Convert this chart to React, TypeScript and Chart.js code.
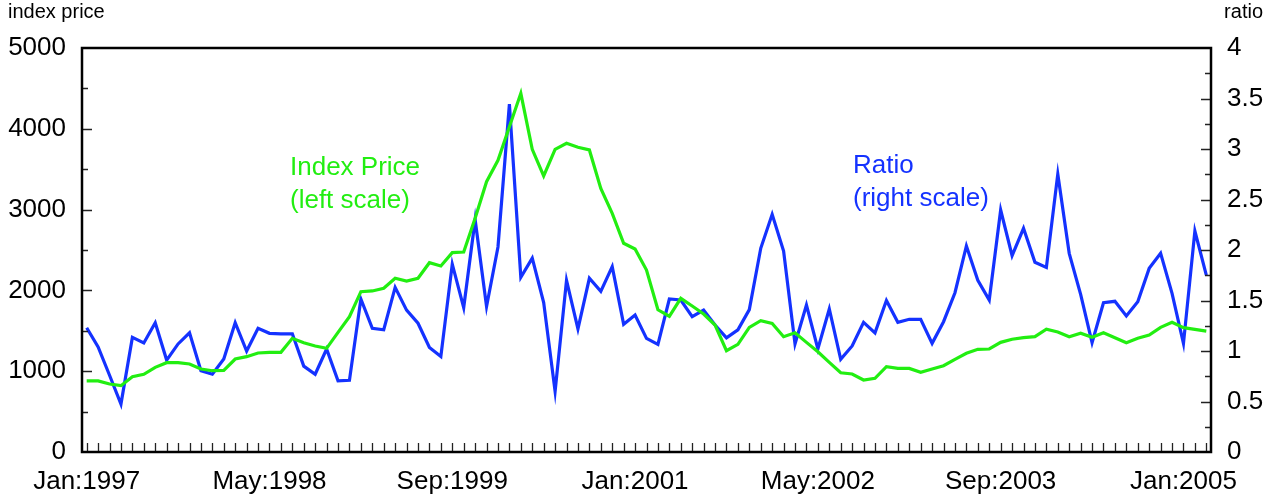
import React, { useEffect, useRef } from "react";
import { Chart, registerables } from "chart.js";

Chart.register(...registerables);

// Month index 0 = Jan 1997 ... 98 = Mar 2005
const xTickLabels = ["Jan:1997", "May:1998", "Sep:1999", "Jan:2001", "May:2002", "Sep:2003", "Jan:2005"];
const xTickEvery = 16;

const indexPrice = [
  880, 880, 842, 821, 932, 961, 1048, 1105, 1105, 1089, 1027, 1006,
  1011, 1151, 1180, 1225, 1234, 1234, 1407, 1353, 1312, 1283, 1481, 1675,
  1984, 1993, 2026, 2150, 2116, 2150, 2343, 2302, 2467, 2475, 2892, 3345,
  3610, 4026, 4439, 3746, 3416, 3746, 3820, 3771, 3738, 3263, 2954, 2583,
  2512, 2252, 1760, 1680, 1902, 1807, 1708, 1572, 1254, 1333, 1543, 1625,
  1592, 1427, 1476, 1357, 1241, 1110, 981, 965, 891, 912, 1056, 1035,
  1035, 986, 1027, 1068, 1147, 1221, 1271, 1275, 1357, 1395, 1415, 1427,
  1519, 1485, 1427, 1469, 1419, 1476, 1415, 1353, 1407, 1448, 1543, 1605,
  1539, 1518, 1497,
];

const ratio = [
  1.23, 1.04, 0.76, 0.475, 1.135, 1.08, 1.28, 0.91, 1.07, 1.18, 0.805, 0.77,
  0.92, 1.28, 1.0, 1.225, 1.175, 1.17, 1.17, 0.85, 0.77, 1.02, 0.705, 0.71,
  1.515, 1.225, 1.21, 1.63, 1.405, 1.275, 1.035, 0.945, 1.86, 1.43, 2.3, 1.44,
  2.03, 3.445, 1.73, 1.92, 1.48, 0.6, 1.7, 1.22, 1.72, 1.59, 1.835, 1.264,
  1.356, 1.125, 1.066, 1.515, 1.505, 1.34, 1.405, 1.257, 1.13, 1.21, 1.41, 2.017,
  2.353, 1.99, 1.07, 1.455, 1.02, 1.416, 0.918, 1.05, 1.284, 1.18, 1.5, 1.284,
  1.314, 1.314, 1.076, 1.29, 1.577, 2.04, 1.7, 1.505, 2.396, 1.944, 2.215, 1.878,
  1.828, 2.752, 1.967, 1.56, 1.082, 1.478, 1.492, 1.347, 1.488, 1.818, 1.967, 1.571,
  1.076, 2.188, 1.752,
];

const GREEN = "#22ee11";
const BLUE = "#1432ff";
const FONT = "'Liberation Sans', Arial, Helvetica, sans-serif";

const decorations = {
  id: "decorations",
  afterDatasetsDraw(chart: any) {
    const { ctx, chartArea: a, scales } = chart;
    ctx.save();
    // x tick marks (monthly, inward)
    ctx.strokeStyle = "#222";
    ctx.lineWidth = 1.3;
    ctx.beginPath();
    for (let i = 0; i < indexPrice.length; i++) {
      const px = Math.round(scales.x.getPixelForValue(i)) + 0.5;
      ctx.moveTo(px, a.bottom);
      ctx.lineTo(px, a.bottom - 9);
    }
    // left y ticks
    for (let v = 500; v < 5000; v += 500) {
      const py = Math.round(scales.y.getPixelForValue(v)) + 0.5;
      const len = v % 1000 === 0 ? 10 : 6;
      ctx.moveTo(a.left, py);
      ctx.lineTo(a.left + len, py);
    }
    // right y ticks
    for (let k = 1; k < 16; k++) {
      const v = k * 0.25;
      const py = Math.round(scales.y1.getPixelForValue(v)) + 0.5;
      const len = k % 2 === 0 ? 10 : 6;
      ctx.moveTo(a.right, py);
      ctx.lineTo(a.right - len, py);
    }
    ctx.stroke();
    // frame
    ctx.strokeStyle = "#000";
    ctx.lineWidth = 2.5;
    ctx.strokeRect(a.left, a.top, a.right - a.left, a.bottom - a.top);

    // axis titles
    ctx.fillStyle = "#000";
    ctx.font = `20px ${FONT}`;
    ctx.textBaseline = "alphabetic";
    ctx.textAlign = "left";
    ctx.fillText("index price", 8, 18);
    ctx.textAlign = "right";
    ctx.fillText("ratio", 1263, 18);

    // annotations
    ctx.font = `26px ${FONT}`;
    ctx.textAlign = "left";
    ctx.fillStyle = GREEN;
    ctx.fillText("Index Price", 290, 175);
    ctx.fillText("(left scale)", 290, 208);
    ctx.fillStyle = BLUE;
    ctx.fillText("Ratio", 853, 173);
    ctx.fillText("(right scale)", 853, 206);
    ctx.restore();
  },
};

export default function App() {
  const ref = useRef<HTMLCanvasElement>(null);
  useEffect(() => {
    const chart = new Chart(ref.current!, {
      type: "line",
      data: {
        datasets: [
          {
            label: "Index Price",
            data: indexPrice.map((v, i) => ({ x: i, y: v })),
            borderColor: GREEN,
            borderWidth: 3.2,
            pointRadius: 0,
            tension: 0,
            fill: false,
            yAxisID: "y",
          },
          {
            label: "Ratio",
            data: ratio.map((v, i) => ({ x: i, y: v })),
            borderColor: BLUE,
            borderWidth: 3.2,
            pointRadius: 0,
            tension: 0,
            fill: false,
            yAxisID: "y1",
          },
        ],
      },
      options: {
        animation: false,
        responsive: false,
        devicePixelRatio: 1,
        layout: { padding: { top: 48, left: 0, right: 0, bottom: 0 } },
        plugins: { legend: { display: false }, tooltip: { enabled: false } },
        scales: {
          x: {
            type: "linear",
            min: -0.41,
            max: 98.41,
            grid: { display: false, drawTicks: false },
            border: { display: false },
            afterBuildTicks: (s: any) => {
              s.ticks = xTickLabels.map((_, k) => ({ value: k * xTickEvery }));
            },
            afterFit: (s: any) => {
              s.height = 50;
            },
            ticks: {
              autoSkip: false,
              maxRotation: 0,
              padding: 14,
              color: "#000",
              font: { family: FONT, size: 26 },
              callback: (v: any) => xTickLabels[Math.round(Number(v) / xTickEvery)] ?? "",
            },
          },
          y: {
            type: "linear",
            position: "left",
            min: 0,
            max: 5000,
            grid: { display: false, drawTicks: false },
            border: { display: false },
            afterFit: (s: any) => {
              s.width = 82;
            },
            ticks: {
              stepSize: 1000,
              padding: 16,
              color: "#000",
              font: { family: FONT, size: 26 },
              callback: (v: any) => String(v),
            },
          },
          y1: {
            type: "linear",
            position: "right",
            min: 0,
            max: 4,
            grid: { display: false, drawTicks: false },
            border: { display: false },
            afterFit: (s: any) => {
              s.width = 64;
            },
            ticks: {
              stepSize: 0.5,
              padding: 16,
              color: "#000",
              font: { family: FONT, size: 26 },
              callback: (v: any) => String(v),
            },
          },
        },
      },
      plugins: [decorations],
    } as any);
    return () => chart.destroy();
  }, []);
  return (
    <div style={{ position: "fixed", left: 0, top: 0, width: 1275, height: 502, background: "#fff" }}>
      <canvas ref={ref} width={1275} height={502} style={{ display: "block", width: 1275, height: 502 }} />
    </div>
  );
}
